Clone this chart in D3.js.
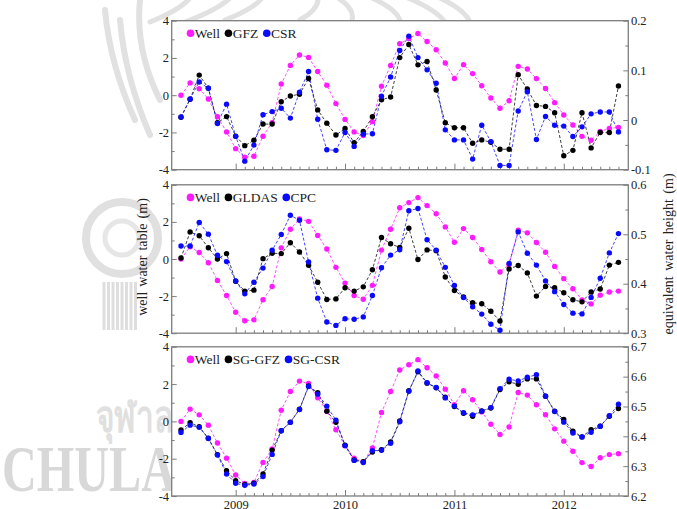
<!DOCTYPE html>
<html>
<head>
<meta charset="utf-8">
<script src="https://cdn.jsdelivr.net/npm/d3@7"></script>
<style>
  html, body { margin: 0; padding: 0; background: #fff; }
  svg { display: block; }
  text { font-family: "Liberation Serif", "Times New Roman", serif; }
</style>
</head>
<body>
<svg id="chart" width="677" height="509"></svg>
<script>
// Monthly samples, July 2008 .. July 2012, as decimal years
const months = d3.range(49).map(i => 2008.5 + i / 12);
const yearTicks = [2009, 2010, 2011, 2012];
const leftTicks = [-4, -2, 0, 2, 4];
const leftMinor = [-3, -1, 1, 3];

// Well water table (m)
const well = [0.0, 0.66, 0.35, -0.2, -1.16, -1.97, -2.87, -3.33, -3.28, -2.2,
  -1.48, 0.6, 1.6, 2.16, 2.03, 1.27, 0.54, -0.45, -1.3, -1.97,
  -2.17, -1.42, 0.48, 1.6, 2.76, 3.04, 3.31, 2.88, 2.44, 1.73,
  0.9, 1.64, 1.16, 0.51, -0.15, -0.7, -0.3, 1.55, 1.41, 0.89,
  0.36, -0.4, -1.06, -1.6, -2.21, -2.42, -1.95, -1.78, -1.73];

// GRACE solutions (plotted in well-table units)
const gfz = [-1.18, -0.22, 1.08, 0.38, -1.48, -1.15, -2.2, -2.71, -2.42, -1.55,
  -1.55, -0.35, -0.04, 0.05, 0.9, -0.79, -1.5, -2.14, -1.79, -2.55,
  -1.95, -1.16, -0.25, -0.1, 2.02, 2.72, 1.63, 1.81, 0.28, -1.48,
  -1.75, -1.75, -2.58, -2.4, -2.53, -2.9, -2.9, 1.1, 0.33, -0.55,
  -0.6, -0.94, -3.25, -2.96, -0.94, -2.83, -2.0, -2.0, 0.49];
const csr = [-1.17, -0.2, 0.71, 0.37, -1.52, -0.48, -2.21, -3.54, -2.68, -1.05,
  -0.88, -0.7, -1.23, 0.16, 1.27, -1.29, -2.93, -2.96, -2.0, -2.75,
  -2.09, -2.07, -0.05, 0.98, 2.4, 3.17, 2.02, 1.36, 0.64, -1.86,
  -2.4, -2.4, -3.43, -1.61, -2.49, -3.77, -3.77, -0.85, 0.19, -2.38,
  -1.14, -1.61, -1.66, -2.22, -1.7, -1.0, -0.9, -0.9, -1.97];

// Land-surface / precipitation models
const gldas = [0.05, 1.46, 1.25, 0.61, 0.0, 0.29, -1.2, -1.73, -1.68, 0.02,
  0.31, 0.29, 0.88, 0.38, -0.34, -1.25, -2.18, -2.15, -1.55, -1.73,
  -1.5, -0.58, 1.16, 0.82, 0.62, 1.66, -0.03, 0.49, 0.45, -0.97,
  -1.7, -2.05, -2.36, -2.41, -2.82, -3.34, -0.54, -0.35, -0.75, -2.0,
  -1.48, -1.55, -1.82, -2.2, -2.31, -1.78, -1.62, -0.33, -0.18];
const cpc = [0.7, 0.7, 1.97, 1.34, 0.2, -0.14, -1.19, -1.88, -1.25, -0.49,
  0.47, 1.32, 2.36, 2.09, -0.16, -2.11, -3.4, -3.58, -3.22, -3.25,
  -3.12, -1.97, -0.47, 0.21, 0.5, 2.6, 2.72, 1.04, 0.48, -0.45,
  -1.43, -2.08, -2.58, -2.97, -3.52, -3.84, -0.24, 1.46, 0.31, -0.33,
  -1.18, -1.76, -2.45, -2.92, -2.96, -2.07, -1.04, 0.33, 1.37];

// Groundwater derived from GRACE minus soil moisture
const sgGfz = [-0.46, -0.07, -0.29, -0.9, -1.78, -2.64, -3.18, -3.38, -3.32, -2.82,
  -1.54, -0.5, -0.04, 0.65, 1.9, 1.54, 0.55, -0.05, -1.27, -2.07,
  -2.16, -1.64, -1.52, -1.1, 0.02, 1.64, 2.66, 2.05, 1.8, 1.3,
  0.8, 0.44, 0.27, 0.56, 0.72, 1.71, 2.12, 1.99, 2.28, 2.28,
  1.35, 0.55, 0.1, -0.53, -0.83, -0.44, -0.26, 0.28, 0.69];
const sgCsr = [-0.59, -0.2, -0.32, -0.92, -1.8, -2.82, -3.32, -3.43, -3.36, -2.96,
  -1.77, -0.5, -0.05, 0.64, 1.87, 1.46, 0.82, 0.07, -1.3, -2.09,
  -2.2, -1.57, -1.55, -1.17, -0.02, 1.62, 2.7, 2.07, 1.82, 1.26,
  0.82, 0.46, 0.35, 0.55, 0.74, 1.76, 2.26, 2.17, 2.37, 2.5,
  1.35, 0.53, -0.04, -0.62, -0.83, -0.58, -0.26, 0.3, 0.92];

// Right-hand axes: equivalent water height (m)
const rightDomain1 = [-0.1, 0.2], rightTicks1 = [-0.1, 0, 0.1, 0.2], rightMinor1 = [-0.05, 0.05, 0.15];
const rightDomain2 = [0.3, 0.6], rightTicks2 = [0.3, 0.4, 0.5, 0.6], rightMinor2 = [0.35, 0.45, 0.55];
const rightDomain3 = [6.2, 6.7], rightTicks3 = [6.2, 6.3, 6.4, 6.5, 6.6, 6.7], rightMinor3 = [6.25, 6.35, 6.45, 6.55, 6.65];

const MAGENTA = "#ff1aff", BLACK = "#000000", BLUE = "#0a0aff";

const panels = [
  { top: 20.7, h: 149, rDom: rightDomain1, rTicks: rightTicks1, rMinor: rightMinor1,
    series: [{ name: "Well", v: well, c: MAGENTA }, { name: "GFZ", v: gfz, c: BLACK }, { name: "CSR", v: csr, c: BLUE }] },
  { top: 184.8, h: 148.4, rDom: rightDomain2, rTicks: rightTicks2, rMinor: rightMinor2,
    series: [{ name: "Well", v: well, c: MAGENTA }, { name: "GLDAS", v: gldas, c: BLACK }, { name: "CPC", v: cpc, c: BLUE }] },
  { top: 346.8, h: 149.2, rDom: rightDomain3, rTicks: rightTicks3, rMinor: rightMinor3,
    series: [{ name: "Well", v: well, c: MAGENTA }, { name: "SG-GFZ", v: sgGfz, c: BLACK }, { name: "SG-CSR", v: sgCsr, c: BLUE }] }
];

const svg = d3.select("#chart");
const X0 = 171.7, X1 = 628.3;
const x = d3.scaleLinear().domain([2008.415, 2012.59]).range([X0, X1]);
const FRAME = "#7d7d7d";

// ---- faint university watermark behind the figure ----
const wm = svg.append("g").attr("fill", "none");
const wmStroke = "#e1e1e1";
// crown / emblem strokes above the top panel
[[150, 22, 190, -2], [185, 22, 230, -2], [225, 20, 262, -2], [300, 20, 318, -2], [352, 20, 338, -2],
 [400, 20, 372, -2], [445, 22, 408, -2], [470, 22, 440, -2]].forEach(([a, b, c, d]) => {
  wm.append("path").attr("d", `M${a},${b} Q${(a + c) / 2 + 10},${(b + d) / 2} ${c},${d}`)
    .attr("stroke", wmStroke).attr("stroke-width", 5).attr("stroke-linecap", "round");
});
[[150, 135, 120, 20], [135, 120, 105, 10], [160, 100, 140, 0]].forEach(([a, b, c, d]) => {
  wm.append("path").attr("d", `M${a},${b} Q${a - 25},${(b + d) / 2} ${c},${d}`)
    .attr("stroke", wmStroke).attr("stroke-width", 6).attr("stroke-linecap", "round");
});
// medallion and tassel on the left
wm.append("circle").attr("cx", 122).attr("cy", 238).attr("r", 36).attr("stroke", "#e0e0e0").attr("stroke-width", 8);
wm.append("circle").attr("cx", 122).attr("cy", 238).attr("r", 17).attr("stroke", "#e6e6e6").attr("stroke-width", 5);
d3.range(8).forEach(k => {
  wm.append("line").attr("x1", 104 + k * 4.5).attr("x2", 104 + k * 4.5).attr("y1", 282).attr("y2", 330)
    .attr("stroke", "#dedede").attr("stroke-width", 3);
});
svg.append("text").attr("transform", "translate(96,432) scale(0.72,1)")
  .attr("font-family", "Noto Sans, DejaVu Sans, sans-serif")
  .attr("font-size", 44).attr("font-weight", "bold").attr("fill", "#e0e0e0").text("จุฬาลงกรณ์มหาวิทยาลัย");
svg.append("text").attr("transform", "translate(2,491) scale(0.73,1)")
  .attr("font-family", "DejaVu Sans, sans-serif").attr("font-weight", "bold")
  .attr("font-size", 66).attr("fill", "#d8d8d8").text("CHULALONGKORN");

// ---- panels ----
panels.forEach((p, pi) => {
  const g = svg.append("g");
  const y = d3.scaleLinear().domain([-4, 4]).range([p.top + p.h, p.top]);
  const yr = d3.scaleLinear().domain(p.rDom).range([p.top + p.h, p.top]);

  g.append("rect").attr("x", X0).attr("y", p.top).attr("width", X1 - X0).attr("height", p.h)
    .attr("fill", "#fff");

  const styleAxis = sel => {
    sel.select(".domain").remove();
    sel.selectAll("line").attr("stroke", FRAME).attr("stroke-width", 1);
    sel.selectAll("text").attr("fill", "#222").attr("font-size", "12.5px")
      .attr("font-family", "Liberation Serif, Times New Roman, serif");
  };

  // left axis
  g.append("g").attr("transform", `translate(${X0},0)`)
    .call(d3.axisLeft(y).tickValues(leftTicks).tickSize(-5).tickPadding(2.6).tickFormat(d => String(d)))
    .call(styleAxis);
  g.append("g").attr("transform", `translate(${X0},0)`)
    .call(d3.axisLeft(y).tickValues(leftMinor).tickSize(-3).tickFormat(""))
    .call(styleAxis);

  // right axis
  g.append("g").attr("transform", `translate(${X1},0)`)
    .call(d3.axisRight(yr).tickValues(p.rTicks).tickSize(-5).tickPadding(2.6).tickFormat(d => String(+d.toFixed(2))))
    .call(styleAxis);
  g.append("g").attr("transform", `translate(${X1},0)`)
    .call(d3.axisRight(yr).tickValues(p.rMinor).tickSize(-3).tickFormat(""))
    .call(styleAxis);

  // bottom axis: years + monthly minor ticks
  const bottom = p.top + p.h;
  g.append("g").attr("transform", `translate(0,${bottom})`)
    .call(d3.axisBottom(x).tickValues(yearTicks).tickSize(-6).tickPadding(4.5)
      .tickFormat(pi === 2 ? d3.format("d") : ""))
    .call(styleAxis);
  const monthTicks = months.filter(m => m >= 2009 && !yearTicks.includes(Math.round(m * 12) / 12));
  g.append("g").attr("transform", `translate(0,${bottom})`)
    .call(d3.axisBottom(x).tickValues(monthTicks).tickSize(-3).tickFormat(""))
    .call(styleAxis);

  // frame
  g.append("rect").attr("x", X0).attr("y", p.top).attr("width", X1 - X0).attr("height", p.h)
    .attr("fill", "none").attr("stroke", FRAME).attr("stroke-width", 1.3);

  // series: dashed line + filled dots
  const line = d3.line().x((d, i) => x(months[i])).y(d => y(d));
  p.series.forEach(s => {
    g.append("path").datum(s.v).attr("d", line).attr("fill", "none")
      .attr("stroke", s.c).attr("stroke-width", 0.9).attr("stroke-dasharray", "3,2")
      .attr("opacity", 0.85);
  });
  p.series.forEach(s => {
    g.append("g").selectAll("circle").data(s.v).join("circle")
      .attr("cx", (d, i) => x(months[i])).attr("cy", d => y(d)).attr("r", 2.7)
      .attr("fill", s.c);
  });

  // legend
  const lg = g.append("g");
  let cx = 190.5;
  const ly = p.top + 12.6;
  p.series.forEach(s => {
    lg.append("circle").attr("cx", cx).attr("cy", ly).attr("r", 3.8).attr("fill", s.c);
    const t = lg.append("text").attr("x", cx + 4.3).attr("y", ly).attr("dy", "0.35em")
      .attr("font-size", "13.5px").attr("fill", "#222").text(s.name);
    cx = cx + 4.3 + t.node().getComputedTextLength() + 8.5;
  });
});

// axis titles
svg.append("text").attr("transform", "translate(147,257) rotate(-90)")
  .attr("text-anchor", "middle").attr("font-size", "14px").attr("word-spacing", "1.5px")
  .attr("fill", "#222").text("well water table (m)");
svg.append("text").attr("transform", "translate(673,254) rotate(-90)")
  .attr("text-anchor", "middle").attr("font-size", "14px").attr("word-spacing", "2px")
  .attr("fill", "#222").text("equivalent water height (m)");
</script>
</body>
</html>
